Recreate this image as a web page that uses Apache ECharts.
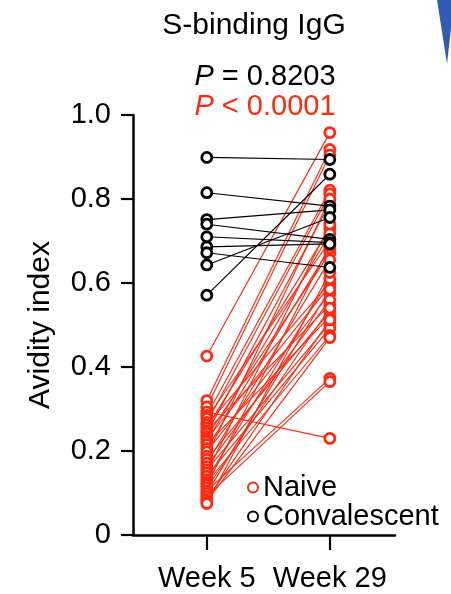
<!DOCTYPE html>
<html>
<head>
<meta charset="utf-8">
<script src="https://cdn.jsdelivr.net/npm/echarts@6/dist/echarts.min.js"></script>
<style>
  html, body { margin: 0; padding: 0; background: #fff; }
  #chart { width: 451px; height: 594px; }
</style>
</head>
<body>
<div id="chart"></div>
<script>
// Time points on the x axis
const weeks = ['Week 5', 'Week 29'];

// Naive donors: avidity index at week 5 and week 29 (paired by position)
const naiveWeek5 = [
  0.426, 0.320, 0.305, 0.293, 0.285, 0.278, 0.268, 0.262, 0.255, 0.248,
  0.242, 0.235, 0.228, 0.222, 0.215, 0.206, 0.198, 0.188, 0.180, 0.171,
  0.163, 0.155, 0.148, 0.140, 0.132, 0.125, 0.119, 0.112, 0.105, 0.099,
  0.092, 0.085, 0.080, 0.075
];
const naiveWeek29 = [
  0.958, 0.918, 0.905, 0.230, 0.821, 0.700, 0.812, 0.601, 0.730, 0.548,
  0.790, 0.671, 0.593, 0.718, 0.520, 0.683, 0.575, 0.800, 0.532, 0.655,
  0.560, 0.504, 0.740, 0.492, 0.610, 0.475, 0.690, 0.540, 0.373, 0.585,
  0.365, 0.512, 0.470, 0.625
];

// Convalescent donors: avidity index at week 5 and week 29
const convWeek5 = [0.899, 0.815, 0.751, 0.740, 0.710, 0.686, 0.672, 0.643, 0.571];
const convWeek29 = [0.894, 0.783, 0.774, 0.704, 0.696, 0.693, 0.637, 0.756, 0.859];

const RED = '#ff2a12';
const BLACK = '#000000';
const FONT = 'Liberation Sans, Arial, Helvetica, sans-serif';

function pairSeries(name, color, w5, w29, z) {
  return w5.map((v, i) => ({
    type: 'line',
    name: name,
    data: [[0, v], [1, w29[i]]],
    symbol: 'circle',
    symbolSize: 10,
    showSymbol: true,
    z: z,
    itemStyle: { color: '#ffffff', borderColor: color, borderWidth: 2.8 },
    lineStyle: { color: color, width: 1.15 },
    emphasis: { disabled: true },
    silent: true
  }));
}

const series = [].concat(
  pairSeries('Naive', RED, naiveWeek5, naiveWeek29, 2),
  pairSeries('Convalescent', BLACK, convWeek5, convWeek29, 3)
);

const chart = echarts.init(document.getElementById('chart'));
chart.setOption({
  animation: false,
  textStyle: { fontFamily: FONT },
  grid: { left: 133, right: 56, top: 115, bottom: 59, containLabel: false },
  xAxis: {
    type: 'value',
    min: -0.6,
    max: 1.53,
    splitLine: { show: false },
    axisLine: { show: true, onZero: false, lineStyle: { color: '#000', width: 2.5 } },
    axisTick: { show: true, customValues: [0, 1], length: 15, lineStyle: { color: '#000', width: 2.2 } },
    axisLabel: {
      customValues: [0, 1],
      formatter: v => weeks[Math.round(v)],
      color: '#000', fontSize: 29, fontFamily: FONT, margin: 29
    }
  },
  yAxis: {
    type: 'value',
    min: 0,
    max: 1,
    interval: 0.2,
    name: 'Avidity index',
    nameLocation: 'middle',
    nameGap: 77,
    nameTextStyle: { color: '#000', fontSize: 30, fontFamily: FONT },
    splitLine: { show: false },
    axisLine: { show: true, onZero: false, lineStyle: { color: '#000', width: 2.5 } },
    axisTick: { show: true, length: 12, lineStyle: { color: '#000', width: 2.2 } },
    axisLabel: {
      formatter: v => (v === 0 ? '0' : v.toFixed(1)),
      color: '#000', fontSize: 29, fontFamily: FONT, margin: 22
    }
  },
  legend: {
    data: ['Naive', 'Convalescent'],
    orient: 'vertical',
    left: 242,
    top: 468,
    icon: 'circle',
    itemWidth: 10,
    itemHeight: 10,
    itemGap: 0,
    selectedMode: false,
    textStyle: { color: '#000', fontSize: 29, fontFamily: FONT, lineHeight: 28 }
  },
  graphic: [
    {
      type: 'text', z: 10,
      x: 254, y: 11,
      style: { text: 'S-binding IgG', fill: '#000', font: '30px ' + FONT, align: 'center' }
    },
    {
      type: 'text', z: 10,
      x: 265, y: 62,
      style: {
        text: '{i|P} = 0.8203',
        fill: '#000',
        font: '29px ' + FONT,
        align: 'center',
        rich: { i: { fontStyle: 'italic', fontSize: 29, fontFamily: FONT, fill: '#000' } }
      }
    },
    {
      type: 'text', z: 10,
      x: 265, y: 92,
      style: {
        text: '{i|P} < 0.0001',
        fill: RED,
        font: '29px ' + FONT,
        align: 'center',
        rich: { i: { fontStyle: 'italic', fontSize: 29, fontFamily: FONT, fill: RED } }
      }
    },
    {
      type: 'polygon', z: 1,
      shape: { points: [[437, 0], [451, 0], [451, 28], [447, 64]] },
      style: { fill: '#2f5db5' }
    }
  ],
  series: series
});
</script>
</body>
</html>
